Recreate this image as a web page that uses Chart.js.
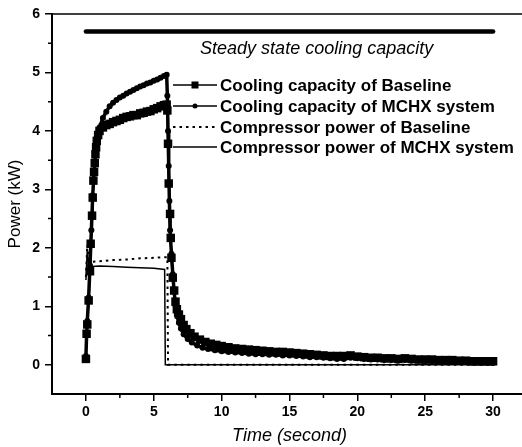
<!DOCTYPE html>
<html>
<head>
<meta charset="utf-8">
<script src="https://cdn.jsdelivr.net/npm/chart.js@4.4.1/dist/chart.umd.min.js"></script>
<style>
html, body { margin: 0; padding: 0; background: #fff; overflow: hidden; }
#moldura { width: 522px; height: 447px; overflow: hidden; }
</style>
</head>
<body>
<div id="moldura"><canvas id="graficoPotencia" width="540" height="447"></canvas></div>
<script>
// Steady state cooling capacity (kW)
const tempoRegime = [0, 30];
const valorRegime = [5.7, 5.7];

// Cooling capacity of Baseline (kW)
const tempoCapBase = [0, 0.05, 0.1, 0.2, 0.3, 0.35, 0.45, 0.5, 0.55, 0.6, 0.65, 0.7, 0.75, 0.8, 0.9, 1.0,
  1.25, 1.5, 1.75, 2, 2.25, 2.5, 2.75, 3, 3.25, 3.5, 3.75, 4, 4.25, 4.5, 4.75, 5, 5.25, 5.5, 5.75, 5.95,
  6.0, 6.05, 6.1, 6.2, 6.25, 6.3, 6.4, 6.5, 6.6, 6.7, 6.85, 7.0, 7.2, 7.4, 7.7, 8.0, 8.4, 8.8, 9.2, 9.6,
  10, 10.5, 11, 11.5, 12, 12.5, 13, 13.5, 14, 14.5, 15, 15.5, 16, 16.5, 17, 17.5, 18, 18.5, 19, 19.5,
  20, 20.5, 21, 21.5, 22, 22.5, 23, 23.5, 24, 24.5, 25, 25.5, 26, 26.5, 27, 27.5, 28, 28.5, 29, 29.5, 30];
const valorCapBase = [0.1, 0.53, 0.69, 1.1, 1.6, 2.07, 2.55, 2.86, 3.15, 3.3, 3.45, 3.6, 3.72, 3.83, 3.93, 4.0,
  4.06, 4.1, 4.12, 4.15, 4.17, 4.19, 4.22, 4.24, 4.25, 4.27, 4.27, 4.3, 4.31, 4.33, 4.34, 4.37, 4.39, 4.42, 4.44, 4.45,
  4.35, 3.78, 3.1, 2.58, 2.17, 1.83, 1.49, 1.27, 1.08, 0.95, 0.86, 0.78, 0.68, 0.61, 0.54, 0.48, 0.43, 0.39, 0.36, 0.34,
  0.32, 0.3, 0.28, 0.27, 0.26, 0.25, 0.24, 0.23, 0.22, 0.22, 0.21, 0.2, 0.19, 0.18, 0.17, 0.16, 0.15, 0.15, 0.15, 0.16,
  0.14, 0.13, 0.12, 0.12, 0.11, 0.11, 0.1, 0.11, 0.1, 0.09, 0.09, 0.09, 0.08, 0.08, 0.08, 0.07, 0.07, 0.06, 0.06, 0.06, 0.06];

// Cooling capacity of MCHX system (kW)
const tempoCapMchx = [0, 0.05, 0.1, 0.2, 0.3, 0.4, 0.5, 0.6, 0.7, 0.8, 0.9, 1.0,
  1.25, 1.5, 1.75, 2, 2.25, 2.5, 2.75, 3, 3.25, 3.5, 3.75, 4, 4.25, 4.5, 4.75, 5, 5.25, 5.5, 5.75, 5.95,
  6.0, 6.05, 6.1, 6.15, 6.2, 6.3, 6.4, 6.5, 6.6, 6.7, 6.85, 7.0, 7.2, 7.5, 7.8, 8.2, 8.6, 9, 9.5,
  10, 10.5, 11, 11.5, 12, 12.5, 13, 13.5, 14, 14.5, 15, 15.5, 16, 16.5, 17, 17.5, 18, 18.5, 19, 19.5,
  20, 20.5, 21, 21.5, 22, 22.5, 23, 23.5, 24, 24.5, 25, 25.5, 26, 26.5, 27, 27.5, 28, 28.5, 29, 29.5, 30];
const valorCapMchx = [0.15, 0.5, 0.75, 1.15, 1.7, 2.3, 2.9, 3.3, 3.6, 3.82, 3.97, 4.06,
  4.22, 4.33, 4.42, 4.48, 4.53, 4.57, 4.6, 4.64, 4.67, 4.7, 4.73, 4.76, 4.78, 4.81, 4.83, 4.86, 4.88, 4.91, 4.94, 4.96,
  4.6, 4.0, 3.4, 2.8, 2.3, 1.9, 1.55, 1.25, 1.02, 0.85, 0.72, 0.62, 0.52, 0.44, 0.38, 0.33, 0.29, 0.27, 0.25,
  0.23, 0.22, 0.21, 0.2, 0.19, 0.18, 0.18, 0.17, 0.17, 0.16, 0.16, 0.15, 0.14, 0.13, 0.13, 0.12, 0.11, 0.1, 0.1, 0.12,
  0.11, 0.1, 0.09, 0.09, 0.08, 0.08, 0.07, 0.08, 0.07, 0.07, 0.06, 0.06, 0.06, 0.05, 0.05, 0.05, 0.05, 0.04, 0.04, 0.04, 0.03];

// Compressor power of Baseline (kW)
const tempoCompBase = [0, 0.1, 0.2, 0.4, 1, 2, 3, 4, 5, 5.9, 6.0, 6.05, 30];
const valorCompBase = [1.5, 2.05, 1.8, 1.76, 1.77, 1.79, 1.8, 1.82, 1.83, 1.84, 1.84, 0, 0];

// Compressor power of MCHX system (kW)
const tempoCompMchx = [0, 0.1, 0.2, 0.4, 1, 2, 3, 4, 5, 5.8, 5.85, 30];
const valorCompMchx = [1.45, 1.98, 1.7, 1.68, 1.69, 1.68, 1.67, 1.66, 1.65, 1.63, 0, 0];

// marcas dos eixos
const marcasTempo = [0, 5, 10, 15, 20, 25, 30];
const marcasPotencia = [0, 1, 2, 3, 4, 5, 6];

const rotulos = ['Cooling capacity of Baseline', 'Cooling capacity of MCHX system',
  'Compressor power of Baseline', 'Compressor power of MCHX system'];
const textoRegime = 'Steady state cooling capacity';

function pares(tempos, valores) {
  return tempos.map(function (t, i) { return { x: t, y: valores[i] }; });
}

const fonte = "'Liberation Sans', Arial, sans-serif";

// ticks secundarios, moldura de cima, legenda e texto
const extras = {
  id: 'extras',
  afterDraw: function (chart) {
    const ctx = chart.ctx;
    const area = chart.chartArea;
    const sx = chart.scales.x;
    const sy = chart.scales.y;
    ctx.save();
    ctx.strokeStyle = '#000';
    ctx.fillStyle = '#000';
    ctx.lineWidth = 1.5;
    ctx.beginPath();
    ctx.moveTo(area.left, area.top);
    ctx.lineTo(area.right, area.top);
    for (let v = 0.5; v < 6; v += 1) {
      const py = sy.getPixelForValue(v);
      ctx.moveTo(area.left - 4, py);
      ctx.lineTo(area.left, py);
    }
    for (let v = 2.5; v < 30; v += 5) {
      const px = sx.getPixelForValue(v);
      ctx.moveTo(px, area.bottom);
      ctx.lineTo(px, area.bottom + 4);
    }
    ctx.stroke();

    // texto da linha de regime
    ctx.font = 'italic 18px ' + fonte;
    ctx.textAlign = 'center';
    ctx.textBaseline = 'middle';
    ctx.fillText(textoRegime, sx.getPixelForValue(17), sy.getPixelForValue(5.4));

    // legenda
    const x0 = 173, x1 = 217, linhas = [85, 106, 127, 147];
    ctx.textAlign = 'left';
    ctx.font = 'bold 17px ' + fonte;
    linhas.forEach(function (py, i) {
      ctx.lineWidth = i === 2 ? 2 : 1.5;
      ctx.setLineDash(i === 2 ? [2.5, 4] : []);
      ctx.beginPath();
      ctx.moveTo(x0, py);
      ctx.lineTo(x1, py);
      ctx.stroke();
      ctx.setLineDash([]);
      if (i === 0) ctx.fillRect(195 - 3.5, py - 3.5, 7, 7);
      if (i === 1) { ctx.beginPath(); ctx.arc(195, py, 2.5, 0, Math.PI * 2); ctx.fill(); }
      ctx.fillText(rotulos[i], 220, py + 1);
    });
    ctx.restore();
  }
};

function marcasFixas(lista) {
  return function (s) { s.ticks = lista.map(function (v) { return { value: v }; }); };
}

const dadosPotencia = {
  datasets: [
    {
      label: 'Steady state',
      data: pares(tempoRegime, valorRegime),
      borderColor: '#000', borderWidth: 4.5, borderCapStyle: 'round', pointRadius: 0
    },
    {
      label: rotulos[2],
      data: pares(tempoCompBase, valorCompBase),
      borderColor: '#000', borderWidth: 2, borderDash: [2.5, 4], pointRadius: 0
    },
    {
      label: rotulos[3],
      data: pares(tempoCompMchx, valorCompMchx),
      borderColor: '#000', borderWidth: 1.5, pointRadius: 0
    },
    {
      label: rotulos[1],
      data: pares(tempoCapMchx, valorCapMchx),
      borderColor: '#000', borderWidth: 3.5, pointRadius: 3, pointStyle: 'circle',
      pointBackgroundColor: '#000', pointBorderWidth: 0
    },
    {
      label: rotulos[0],
      data: pares(tempoCapBase, valorCapBase),
      borderColor: '#000', borderWidth: 2, pointRadius: 6, pointStyle: 'rect',
      pointBackgroundColor: '#000', pointBorderWidth: 0
    }
  ]
};

const configuracaoGrafico = {
  type: 'line',
  data: dadosPotencia,
  options: {
    responsive: false,
    animation: false,
    devicePixelRatio: 1,
    layout: { padding: { top: 14, right: 13, left: 0, bottom: 0 } },
    plugins: { legend: { display: false }, tooltip: { enabled: false } },
    elements: { line: { tension: 0 } },
    scales: {
      x: {
        type: 'linear', min: -2.5, max: 32.5,
        afterFit: function (s) { s.height = 53; },
        afterBuildTicks: marcasFixas(marcasTempo),
        ticks: {
          autoSkip: false, maxRotation: 0, padding: 3, color: '#000',
          font: { family: fonte, size: 14, weight: 'bold' }
        },
        grid: { drawOnChartArea: false, color: '#000', tickLength: 7, lineWidth: 1.5 },
        border: { color: '#000', width: 2 },
        title: {
          display: true, text: 'Time (second)', color: '#000',
          font: { family: fonte, size: 18, style: 'italic' }, padding: { top: 0, bottom: 0 }
        }
      },
      y: {
        type: 'linear', min: -0.5, max: 6,
        afterFit: function (s) { s.width = 52; },
        afterBuildTicks: marcasFixas(marcasPotencia),
        ticks: {
          padding: 5, color: '#000',
          font: { family: fonte, size: 14, weight: 'bold' }
        },
        grid: { drawOnChartArea: false, color: '#000', tickLength: 7, lineWidth: 1.5 },
        border: { color: '#000', width: 2 },
        title: {
          display: true, text: 'Power (kW)', color: '#000',
          font: { family: fonte, size: 17 }, padding: { top: 5, bottom: 0 }
        }
      }
    }
  },
  plugins: [extras]
};

var graficoPotencia = new Chart(document.getElementById('graficoPotencia'), configuracaoGrafico);
</script>
</body>
</html>
